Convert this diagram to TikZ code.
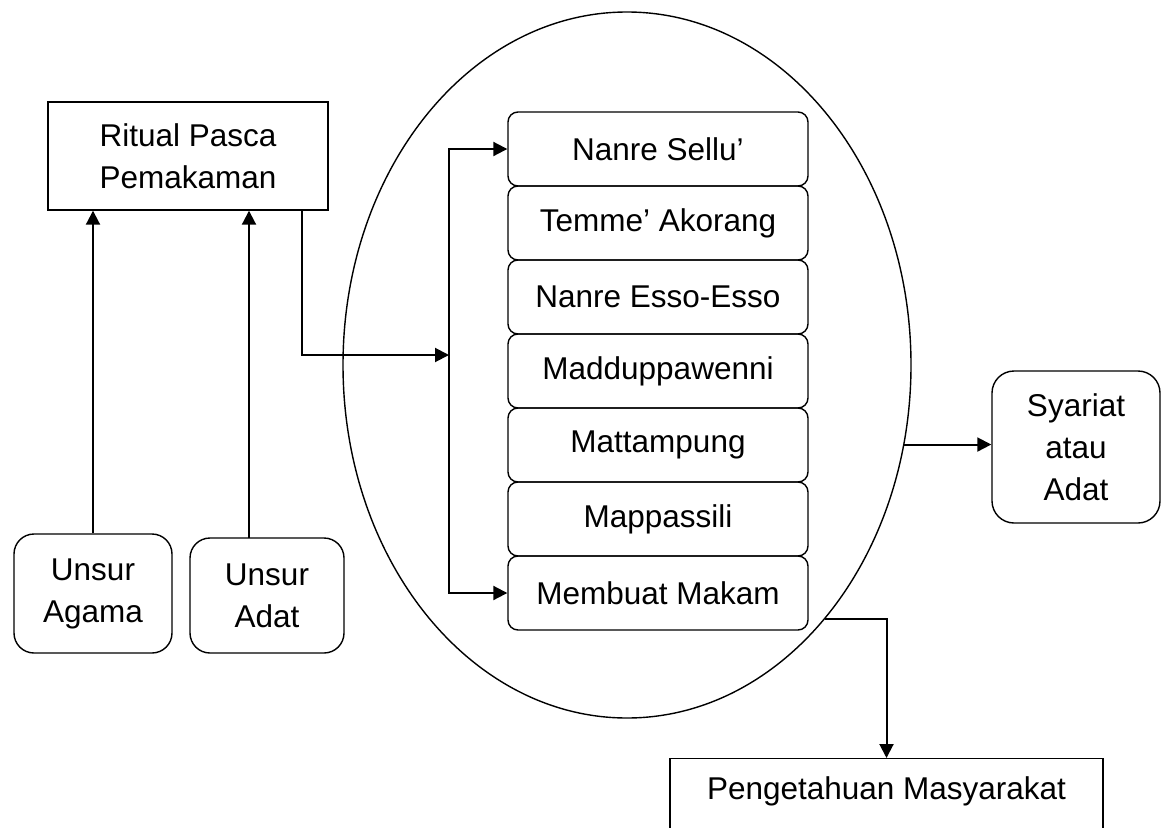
\documentclass[tikz,border=0pt]{standalone}
\usepackage{fontspec}
\setmainfont{Liberation Sans}
\usetikzlibrary{arrows.meta,shapes.geometric}
\begin{document}
\begin{tikzpicture}[x=1pt,y=1pt,
  font=\fontsize{31.5}{42}\selectfont,
  box/.style={draw, line width=1.4pt, align=center, inner sep=0pt},
  rbox/.style={box, rounded corners=#1},
  arr/.style={line width=2pt, -{Triangle[length=14pt,width=14pt]}},
  ]
\useasboundingbox (0,0) rectangle (1164,-827);
\clip (0,0) rectangle (1164,-827);
\fill[white] (0,0) rectangle (1164,-827);

\node[ellipse, draw, line width=1.4pt, minimum width=568pt, minimum height=706pt, inner sep=0pt] (ell) at (627,-365) {};

\node[box, minimum width=280pt, minimum height=108pt] (ritual) at (188,-156) {Ritual Pasca\\Pemakaman};
\node[rbox=20pt, minimum width=158pt, minimum height=119pt] (agama) at (93,-593.5) {Unsur\\Agama};
\node[rbox=20pt, minimum width=154pt, minimum height=115pt] (adat) at (267,-595.5) {Unsur\\Adat};

\node[rbox=10pt, minimum width=300pt, minimum height=74pt] (n1) at (658,-149) {Nanre Sellu’};
\node[rbox=10pt, minimum width=300pt, minimum height=74pt] (n2) at (658,-223) {Temme’ Akorang};
\node[rbox=10pt, minimum width=300pt, minimum height=74pt] (n3) at (658,-297) {Nanre Esso-Esso};
\node[rbox=10pt, minimum width=300pt, minimum height=74pt] (n4) at (658,-371) {Madduppawenni};
\node[rbox=10pt, minimum width=300pt, minimum height=74pt] (n5) at (658,-445) {Mattampung};
\node[rbox=10pt, minimum width=300pt, minimum height=74pt] (n6) at (658,-519) {Mappassili};
\node[rbox=10pt, minimum width=300pt, minimum height=74pt] (n7) at (658,-593) {Membuat Makam};

\node[rbox=22pt, minimum width=168pt, minimum height=152pt] (syariat) at (1076,-447) {Syariat\\atau\\Adat};
\node[draw, line width=1.4pt, inner sep=0pt, anchor=north, minimum width=433pt, text height=41pt, text depth=50pt] (peng) at (886.5,-758) {Pengetahuan Masyarakat};

\draw[arr] (agama.north) -- (agama.north |- ritual.south);
\coordinate (adatTop) at (249,-538);
\draw[arr] (adatTop) -- (adatTop |- ritual.south);

\coordinate (rOut) at (302,-210);
\coordinate (bk) at (449,-355);
\draw[arr] (rOut) |- (bk);
\draw[line width=2pt, {Triangle[length=14pt,width=14pt]}-{Triangle[length=14pt,width=14pt]}] (n1.west) -| (bk) |- (n7.west);

\draw[arr] (ell.-16.5) -- (ell.-16.5 -| syariat.west);
\draw[arr] (ell.-52) -| (peng.north);
\end{tikzpicture}
\end{document}
